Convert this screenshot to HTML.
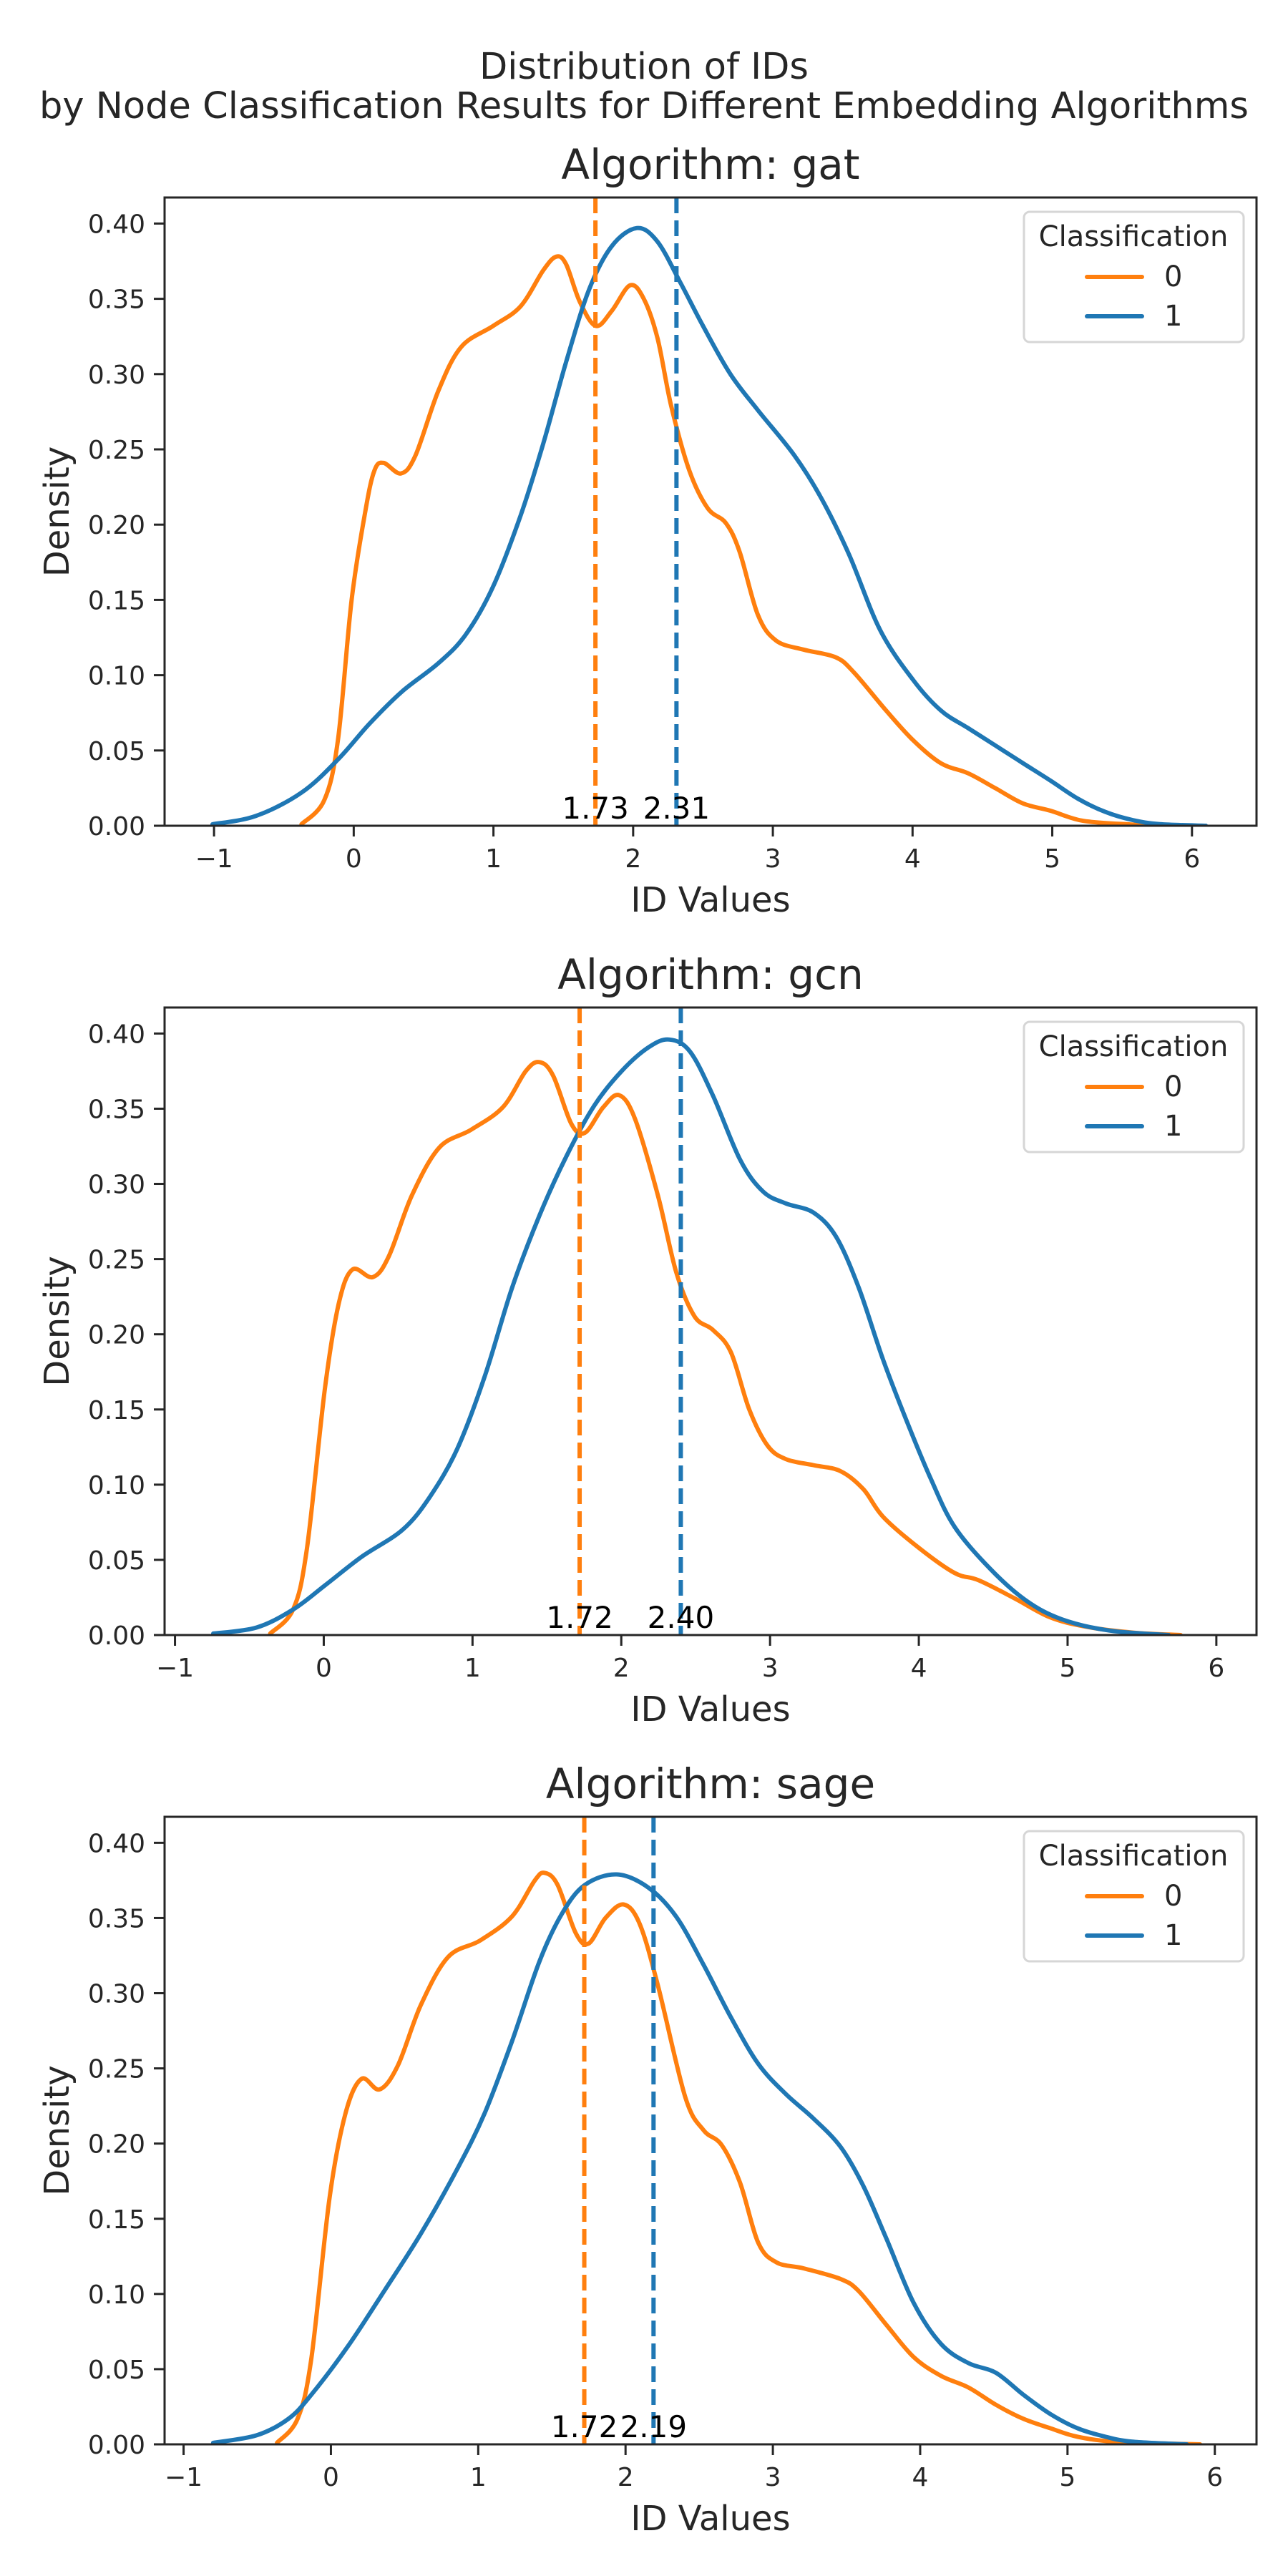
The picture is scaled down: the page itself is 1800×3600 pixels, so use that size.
<!DOCTYPE html>
<html><head><meta charset="utf-8">
<style>
html,body{margin:0;padding:0;background:#fff;}
svg{display:block;}
text{font-family:"DejaVu Sans","Liberation Sans",sans-serif;fill:#262626;}
</style></head>
<body>
<svg id="fig" width="1800" height="3600" viewBox="0 0 1800 3600" xmlns="http://www.w3.org/2000/svg">
<text x="900" y="110" font-size="51" text-anchor="middle">Distribution of IDs</text>
<text x="900" y="165" font-size="51" text-anchor="middle">by Node Classification Results for Different Embedding Algorithms</text>
</svg>
<script>
// ---- data ----
const algorithms = ["gat", "gcn", "sage"];
const yTicks = [0, 0.05, 0.10, 0.15, 0.20, 0.25, 0.30, 0.35, 0.40];
const yTickLabels = ["0.00","0.05","0.10","0.15","0.20","0.25","0.30","0.35","0.40"];
const xTicks = [-1, 0, 1, 2, 3, 4, 5, 6];
const xTickLabels = ["\u22121","0","1","2","3","4","5","6"];
const classLabels = ["0", "1"];

const gatX0 = [-0.374,-0.211,-0.113,-0.015,0.083,0.148,0.214,0.338,0.442,0.606,0.769,0.998,1.194,1.357,1.449,1.520,1.618,1.733,1.847,1.978,2.076,2.174,2.272,2.402,2.533,2.664,2.762,2.893,3.023,3.219,3.448,3.579,3.811,4.007,4.203,4.399,4.595,4.791,4.987,5.22,5.57,5.69];
const gatY0 = [0.001,0.017,0.057,0.150,0.209,0.236,0.241,0.234,0.246,0.289,0.318,0.332,0.345,0.369,0.378,0.373,0.348,0.332,0.342,0.359,0.350,0.324,0.279,0.236,0.211,0.201,0.182,0.140,0.123,0.117,0.112,0.102,0.0765,0.0565,0.0415,0.0348,0.0248,0.0148,0.010,0.0033,0.0008,0];
const gatX1 = [-1.011,-0.701,-0.374,-0.113,0.115,0.344,0.606,0.802,0.998,1.194,1.357,1.520,1.684,1.847,2.027,2.174,2.337,2.500,2.696,2.893,3.154,3.350,3.546,3.768,4.007,4.203,4.399,4.595,4.791,4.987,5.183,5.379,5.575,5.77,6.1];
const gatY1 = [0.001,0.0065,0.022,0.044,0.068,0.089,0.108,0.127,0.159,0.206,0.254,0.308,0.356,0.385,0.397,0.388,0.361,0.332,0.300,0.276,0.246,0.217,0.180,0.130,0.0965,0.0765,0.0648,0.0532,0.0415,0.030,0.018,0.0092,0.0038,0.0011,0];

const gcnX0 = [-0.360,-0.206,-0.114,0.008,0.100,0.192,0.330,0.438,0.591,0.775,0.990,1.204,1.358,1.450,1.542,1.664,1.756,1.879,1.986,2.093,2.247,2.370,2.492,2.615,2.737,2.860,2.983,3.106,3.290,3.473,3.627,3.76,4.00,4.24,4.40,4.64,4.88,5.12,5.44,5.76];
const gcnY0 = [0.001,0.017,0.057,0.164,0.220,0.243,0.238,0.252,0.292,0.324,0.336,0.351,0.375,0.381,0.372,0.340,0.334,0.351,0.359,0.343,0.292,0.241,0.212,0.203,0.188,0.150,0.126,0.117,0.113,0.109,0.097,0.0786,0.058,0.0413,0.0365,0.0246,0.0119,0.0056,0.0016,0];
const gcnX1 = [-0.743,-0.452,-0.206,0.008,0.254,0.530,0.714,0.898,1.082,1.266,1.450,1.634,1.818,2.002,2.186,2.324,2.462,2.615,2.799,2.952,3.106,3.290,3.443,3.596,3.76,3.92,4.08,4.24,4.48,4.72,4.96,5.28,5.68];
const gcnY1 = [0.001,0.005,0.017,0.033,0.052,0.070,0.092,0.124,0.172,0.231,0.279,0.319,0.352,0.375,0.391,0.396,0.388,0.359,0.316,0.295,0.287,0.281,0.265,0.231,0.183,0.142,0.104,0.072,0.044,0.023,0.0105,0.003,0];

const sageX0 = [-0.366,-0.226,-0.133,-0.009,0.099,0.207,0.331,0.455,0.610,0.795,1.012,1.229,1.384,1.452,1.539,1.662,1.749,1.864,1.987,2.096,2.220,2.405,2.529,2.653,2.777,2.901,3.025,3.210,3.458,3.582,3.77,3.956,4.142,4.328,4.514,4.70,4.886,5.07,5.35,5.9];
const sageY0 = [0.001,0.017,0.057,0.164,0.220,0.243,0.236,0.252,0.292,0.324,0.335,0.351,0.375,0.380,0.372,0.340,0.333,0.350,0.359,0.346,0.305,0.231,0.209,0.199,0.174,0.134,0.121,0.117,0.110,0.102,0.0795,0.058,0.0455,0.0378,0.0263,0.017,0.0106,0.005,0.0015,0];
const sageX1 = [-0.799,-0.505,-0.288,-0.133,0.114,0.362,0.610,0.857,1.043,1.229,1.415,1.569,1.724,1.941,2.158,2.343,2.529,2.715,2.901,3.087,3.272,3.458,3.613,3.77,3.956,4.142,4.328,4.514,4.70,4.886,5.07,5.26,5.44,5.81];
const sageY1 = [0.001,0.006,0.017,0.033,0.065,0.102,0.140,0.183,0.220,0.268,0.321,0.353,0.372,0.379,0.370,0.351,0.319,0.284,0.253,0.233,0.217,0.198,0.172,0.137,0.094,0.0667,0.054,0.0476,0.033,0.020,0.0106,0.005,0.0018,0];

const means0 = [1.73, 1.72, 1.72];
const means1 = [2.31, 2.40, 2.19];
const meanLabels0 = ["1.73", "1.72", "1.72"];
const meanLabels1 = ["2.31", "2.40", "2.19"];

// ---- layout ----
const NS = "http://www.w3.org/2000/svg";
const svg = document.getElementById("fig");
const C0 = "#ff7f0e", C1 = "#1f77b4";
const panels = [
  {top:276, bottom:1154, xmin:-1.354, xmax:6.462, xs:[gatX0,gatX1], ys:[gatY0,gatY1]},
  {top:1408, bottom:2285, xmin:-1.07, xmax:6.27, xs:[gcnX0,gcnX1], ys:[gcnY0,gcnY1]},
  {top:2539, bottom:3416, xmin:-1.129, xmax:6.283, xs:[sageX0,sageX1], ys:[sageY0,sageY1]}
];
const L = 230, R = 1756, YMAX = 0.4173;

function mk(tag, attrs, parent){
  const e = document.createElementNS(NS, tag);
  for (const k in attrs) e.setAttribute(k, attrs[k]);
  (parent||svg).appendChild(e);
  return e;
}
function smoothPath(pts){
  let d = "M" + pts[0][0].toFixed(1) + "," + pts[0][1].toFixed(1);
  for (let i=0;i<pts.length-1;i++){
    const p0 = pts[Math.max(0,i-1)], p1 = pts[i], p2 = pts[i+1], p3 = pts[Math.min(pts.length-1,i+2)];
    const c1x = p1[0] + (p2[0]-p0[0])/6, c1y = p1[1] + (p2[1]-p0[1])/6;
    const c2x = p2[0] - (p3[0]-p1[0])/6, c2y = p2[1] - (p3[1]-p1[1])/6;
    d += " C" + c1x.toFixed(1)+","+c1y.toFixed(1)+" "+c2x.toFixed(1)+","+c2y.toFixed(1)+" "+p2[0].toFixed(1)+","+p2[1].toFixed(1);
  }
  return d;
}

panels.forEach((p, pi) => {
  const g = mk("g", {});
  
  
  const sx = v => L + (v - p.xmin) / (p.xmax - p.xmin) * (R - L);
  const sy = v => p.bottom - v / YMAX * (p.bottom - p.top);

  const clipId = "clip" + pi;
  const cp = mk("clipPath", {id: clipId}, g);
  mk("rect", {x:L, y:p.top, width:R-L, height:p.bottom-p.top}, cp);

  const t = mk("text", {x:(L+R)/2, y:p.top-26, "font-size":58, "text-anchor":"middle"}, g);
  t.textContent = "Algorithm: " + algorithms[pi];
  
  

  yTicks.forEach((v, i) => {
    const y = sy(v);
    const tk = mk("line", {x1:L-15, x2:L, y1:y, y2:y, stroke:"#262626", "stroke-width":3}, g);
    
    
    const tl = mk("text", {x:L-27, y:y+13, "font-size":36, "text-anchor":"end"}, g);
    tl.textContent = yTickLabels[i];
    
    
  });
  xTicks.forEach((v, i) => {
    const x = sx(v);
    const tk = mk("line", {x1:x, x2:x, y1:p.bottom, y2:p.bottom+15, stroke:"#262626", "stroke-width":3}, g);
    
    
    const tl = mk("text", {x:x, y:p.bottom+58, "font-size":36, "text-anchor":"middle"}, g);
    tl.textContent = xTickLabels[i];
    
    
  });
  const xl = mk("text", {x:(L+R)/2, y:p.bottom+120, "font-size":48, "text-anchor":"middle"}, g);
  xl.textContent = "ID Values";
  
  
  const ym = (p.top+p.bottom)/2;
  const yl = mk("text", {x:96, y:ym, "font-size":48, "text-anchor":"middle", transform:"rotate(-90 96 "+ym+")"}, g);
  yl.textContent = "Density";
  
  

  [C0, C1].forEach((col, si) => {
    const pts = p.xs[si].map((xv, k) => [sx(xv), sy(p.ys[si][k])]);
    const path = mk("path", {d:smoothPath(pts), fill:"none", stroke:col, "stroke-width":6, "stroke-linejoin":"round", "stroke-linecap":"round", "clip-path":"url(#"+clipId+")"}, g);
    
    
  });

  [[means0[pi], C0, meanLabels0[pi], 0], [means1[pi], C1, meanLabels1[pi], 1]].forEach(m => {
    const x = sx(m[0]);
    const ln = mk("line", {x1:x, x2:x, y1:p.top, y2:p.bottom, stroke:m[1], "stroke-width":6, "stroke-dasharray":"22,10"}, g);
    
    
  });
  [[means0[pi], meanLabels0[pi]], [means1[pi], meanLabels1[pi]]].forEach(m => {
    const tx = mk("text", {x:sx(m[0]), y:p.bottom-10, "font-size":42, "text-anchor":"middle", style:"fill:#000"}, g);
    tx.textContent = m[1];
    
    
  });

  const fr = mk("rect", {x:L, y:p.top, width:R-L, height:p.bottom-p.top, fill:"none", stroke:"#262626", "stroke-width":3}, g);
  
  

  const lg = mk("g", {}, g);
  
  
  mk("rect", {x:1431, y:p.top+20, width:307, height:182, rx:8, fill:"#fff", "fill-opacity":0.8, stroke:"#d6d6d6", "stroke-width":3}, lg);
  const lt = mk("text", {x:1584, y:p.top+68, "font-size":40, "text-anchor":"middle"}, lg);
  lt.textContent = "Classification";
  
  
  [C0, C1].forEach((col, si) => {
    const yy = p.top + 111 + si*55;
    const e = mk("g", {}, lg);
    
    
    mk("line", {x1:1519, x2:1596, y1:yy, y2:yy, stroke:col, "stroke-width":6, "stroke-linecap":"round"}, e);
    const et = mk("text", {x:1627, y:yy+13, "font-size":40}, e);
    et.textContent = classLabels[si];
  });
});
</script>
</body></html>
